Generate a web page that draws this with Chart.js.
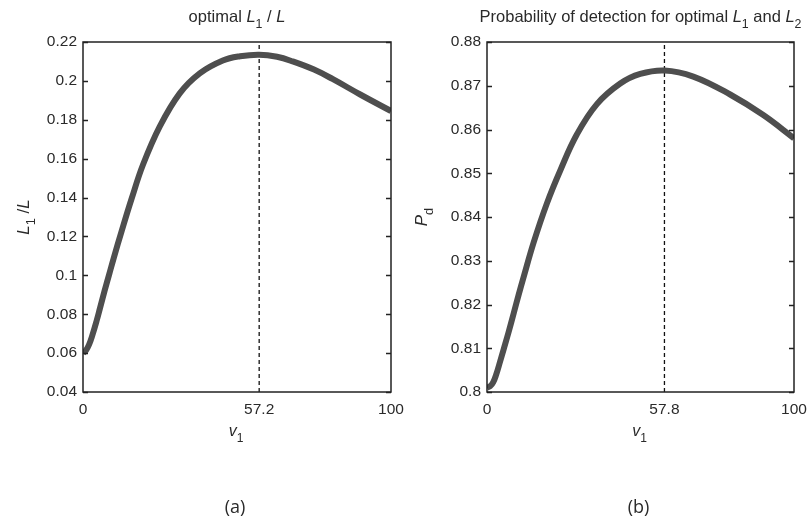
<!DOCTYPE html>
<html lang="en">
<head>
    <meta charset="UTF-8">
    <title>Optimal L1 / L and probability of detection</title>
    <script src="https://cdn.jsdelivr.net/npm/chart.js"></script>
    <style>
        body { margin: 0; background: #fff; }
        .wrap { position: relative; width: 808px; height: 521px; }
        .wrap canvas { position: absolute; top: 0; }
        #chartA { left: 0; }
        #chartB { left: 404px; }
    </style>
</head>
<body>
    <div class="wrap">
        <canvas id="chartA" width="404" height="521"></canvas>
        <canvas id="chartB" width="404" height="521"></canvas>
    </div>

    <script>
        // panel (a): optimal L1 / L against v1
        const v1A = [0, 1, 2, 3, 4.4, 5.5, 7, 8.5, 10, 12.5, 15.8, 19.5, 24.9, 31.4, 37.9, 45.4, 51, 57.2, 63, 68.1, 75, 81, 90, 100];
        const ratioA = [0.060, 0.0615, 0.0645, 0.069, 0.0765, 0.083, 0.092, 0.1005, 0.109, 0.1225, 0.1395, 0.157, 0.1765, 0.1936, 0.2039, 0.2105, 0.2127, 0.2135, 0.2124, 0.2100, 0.2058, 0.2010, 0.1930, 0.1845];
        const peakA = 57.2;
        const xTicksA = [0, 57.2, 100];
        const yTicksA = [0.04, 0.06, 0.08, 0.1, 0.12, 0.14, 0.16, 0.18, 0.2, 0.22];

        // panel (b): probability of detection against v1
        const v1B = [0, 1, 2, 3, 4.2, 5.4, 7, 8.7, 10.3, 11.9, 15.2, 19.5, 23.9, 29.3, 35.8, 43.4, 49.9, 57.8, 67.2, 79.2, 90, 100];
        const pdB = [0.8010, 0.8013, 0.8022, 0.8040, 0.8068, 0.8097, 0.8136, 0.8180, 0.8222, 0.8262, 0.8342, 0.8431, 0.8507, 0.8589, 0.8658, 0.8705, 0.8727, 0.8735, 0.8721, 0.8680, 0.8633, 0.8580];
        const peakB = 57.8;
        const xTicksB = [0, 57.8, 100];
        const yTicksB = [0.8, 0.81, 0.82, 0.83, 0.84, 0.85, 0.86, 0.87, 0.88];

        const FONT = '"Liberation Sans", Arial, sans-serif';
        const INK = '#2a2a2a';

        // draws a label made of pieces, some italic, some subscript
        function drawRich(ctx, segs, x, y, size, rot) {
            ctx.save();
            ctx.translate(x, y);
            ctx.rotate(rot || 0);
            let w = 0;
            const parts = segs.map(s => {
                const fs = s.sub ? size * 0.75 : size;
                const f = (s.it ? 'italic ' : '') + fs + 'px ' + FONT;
                ctx.font = f;
                const pw = ctx.measureText(s.t).width;
                w += pw;
                return { t: s.t, f: f, w: pw, dy: s.sub ? size * 0.38 : 0 };
            });
            let cx = -w / 2;
            ctx.textAlign = 'left';
            ctx.textBaseline = 'alphabetic';
            ctx.fillStyle = INK;
            parts.forEach(p => {
                ctx.font = p.f;
                ctx.fillText(p.t, cx, p.dy);
                cx += p.w;
            });
            ctx.restore();
        }

        // box round the axes, inward ticks, and the rich-text labels
        const frame = {
            id: 'frame',
            afterDraw(chart, args, o) {
                const ctx = chart.ctx;
                const a = chart.chartArea;
                const xs = chart.scales.x, ys = chart.scales.y;
                ctx.save();
                ctx.strokeStyle = '#222';
                ctx.lineWidth = 1.5;
                ctx.beginPath();
                ys.ticks.forEach(t => {
                    const py = Math.round(ys.getPixelForValue(t.value)) + 0.5;
                    ctx.moveTo(a.left, py); ctx.lineTo(a.left + 5, py);
                    ctx.moveTo(a.right, py); ctx.lineTo(a.right - 5, py);
                });
                ctx.stroke();
                ctx.strokeRect(a.left, a.top, a.right - a.left, a.bottom - a.top);
                ctx.restore();

                const cx = (a.left + a.right) / 2;
                drawRich(ctx, o.title, cx, 22, 16.5);
                drawRich(ctx, [{ t: 'v', it: true }, { t: '1', sub: true }], cx - 1, 436, 16);
                drawRich(ctx, o.ylabel, o.ylabelX, (a.top + a.bottom) / 2, 17, -Math.PI / 2);
                ctx.save();
                ctx.font = '18px "Open Sans", ' + FONT;
                ctx.fillStyle = INK;
                ctx.textAlign = 'center';
                ctx.textBaseline = 'middle';
                ctx.fillText(o.caption, cx - 2, 508);
                ctx.restore();
            }
        };

        function fmt(v) {
            return String(+v.toFixed(3));
        }

        function makePanel(id, xs, ys, peak, xTicks, yTicks, padRight, extra) {
            const yMin = yTicks[0], yMax = yTicks[yTicks.length - 1];
            const ctx = document.getElementById(id).getContext('2d');
            return new Chart(ctx, {
                type: 'line',
                data: {
                    datasets: [
                        {
                            data: xs.map((x, i) => ({ x: x, y: ys[i] })),
                            borderColor: '#4e4e4e',
                            borderWidth: 6,
                            pointRadius: 0,
                            tension: 0.4,
                            fill: false
                        },
                        {
                            data: [{ x: peak, y: yMin }, { x: peak, y: yMax }],
                            borderColor: '#111',
                            borderWidth: 1.3,
                            borderDash: [4, 3],
                            pointRadius: 0,
                            fill: false
                        }
                    ]
                },
                options: {
                    responsive: false,
                    animation: false,
                    layout: { padding: { top: 42, right: padRight, left: 0, bottom: 0 } },
                    plugins: {
                        legend: { display: false },
                        tooltip: { enabled: false },
                        frame: extra
                    },
                    scales: {
                        x: {
                            type: 'linear',
                            min: 0,
                            max: 100,
                            afterBuildTicks: s => { s.ticks = xTicks.map(v => ({ value: v })); },
                            afterFit: s => { s.height = 129; s.paddingLeft = 0; s.paddingRight = 0; },
                            grid: { display: false, drawTicks: false },
                            border: { display: false },
                            ticks: {
                                padding: 8,
                                color: INK,
                                font: { family: FONT, size: 15.5 },
                                maxRotation: 0,
                                callback: v => fmt(v)
                            }
                        },
                        y: {
                            type: 'linear',
                            min: yMin,
                            max: yMax,
                            afterBuildTicks: s => { s.ticks = yTicks.map(v => ({ value: v })); },
                            afterFit: s => { s.width = 83; s.paddingTop = 0; s.paddingBottom = 0; },
                            grid: { display: false, drawTicks: false },
                            border: { display: false },
                            ticks: {
                                padding: 6,
                                color: INK,
                                font: { family: FONT, size: 15.5 },
                                callback: v => fmt(v)
                            }
                        }
                    }
                },
                plugins: [frame]
            });
        }

        makePanel('chartA', v1A, ratioA, peakA, xTicksA, yTicksA, 13, {
            title: [{ t: 'optimal ' }, { t: 'L', it: true }, { t: '1', sub: true }, { t: ' / ' }, { t: 'L', it: true }],
            ylabel: [{ t: 'L', it: true }, { t: '1', sub: true }, { t: ' /' }, { t: 'L', it: true }],
            ylabelX: 29,
            caption: '(a)'
        });

        makePanel('chartB', v1B, pdB, peakB, xTicksB, yTicksB, 14, {
            title: [{ t: 'Probability of detection for optimal ' }, { t: 'L', it: true }, { t: '1', sub: true },
                    { t: ' and ' }, { t: 'L', it: true }, { t: '2', sub: true }],
            ylabel: [{ t: 'P', it: true }, { t: 'd', sub: true }],
            ylabelX: 23,
            caption: '(b)'
        });
    </script>
</body>
</html>
